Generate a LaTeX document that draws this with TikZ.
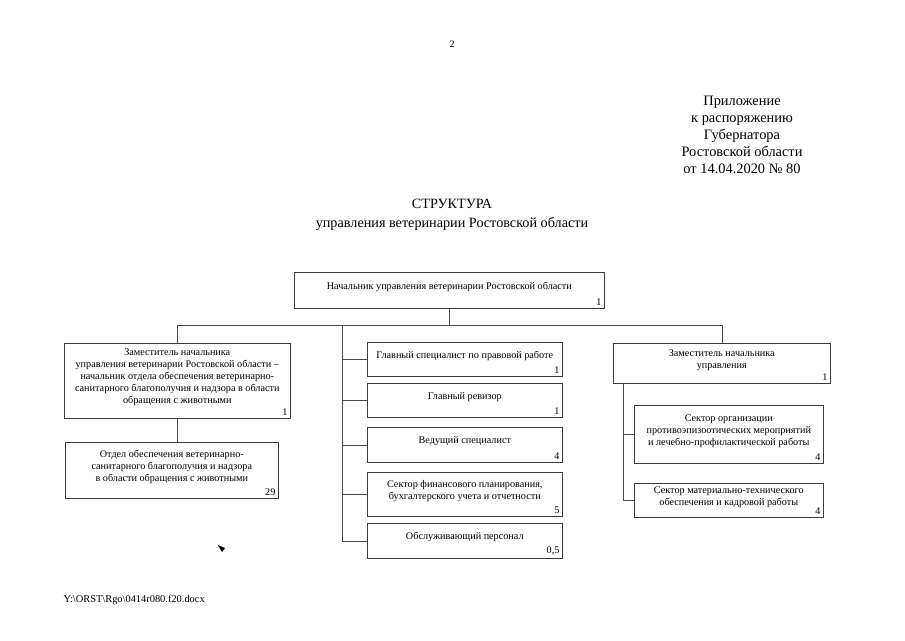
\documentclass[tikz,border=0pt]{standalone}
\usepackage{fontspec}
\setmainfont{Liberation Serif}
\usetikzlibrary{positioning, calc}
\definecolor{boxline}{HTML}{3A3A3A}
\definecolor{linkline}{HTML}{4A4A4A}
\tikzset{
  unitbox/.style={draw=boxline, fill=white, anchor=north west, align=center,
    inner sep=2pt, text depth=9pt, font=\fontsize{10.2}{12}\selectfont, line width=0.6pt},
  staff/.style={label={[anchor=south east, inner sep=3pt, font=\fontsize{10.2}{12}\selectfont]south east:#1}},
  link/.style={draw=linkline, line width=0.6pt}
}
\begin{document}
\begin{tikzpicture}[x=1pt, y=-1pt]
\useasboundingbox (0,0) rectangle (905,640);
% header
\node[font=\fontsize{10}{12}\selectfont] (page) at (452,44) {2};
\node[align=center, font=\fontsize{14.4}{17}\selectfont] (annex) at (742,135)
  {Приложение\\к распоряжению\\Губернатора\\Ростовской области\\от 14.04.2020 № 80};
\node[align=center, font=\fontsize{14.2}{19}\selectfont] (title) at (452,215)
  {СТРУКТУРА\\управления ветеринарии Ростовской области};
\node[anchor=west, font=\fontsize{10.4}{12}\selectfont] (file) at (60,600) {Y:\textbackslash ORST\textbackslash Rgo\textbackslash 0414r080.f20.docx};
% boxes
\node[unitbox, staff=1, minimum width=310, minimum height=36] (chief) at (294,272)
  {Начальник управления ветеринарии Ростовской области};
\node[unitbox, staff=1, minimum width=226, minimum height=75] (dep1) at (64,343)
  {Заместитель начальника\\управления ветеринарии Ростовской области --\\начальник отдела обеспечения ветеринарно-\\санитарного благополучия и надзора в области\\обращения с животными};
\node[unitbox, staff=29, minimum width=213, minimum height=56] (dept) at (65,442)
  {Отдел обеспечения ветеринарно-\\санитарного благополучия и надзора\\в области обращения с животными};
\node[unitbox, staff=1, minimum width=195, minimum height=34] (lawyer) at (367,342)
  {Главный специалист по правовой работе};
\node[unitbox, staff=1, minimum width=195, minimum height=34] (auditor) at (367,383)
  {Главный ревизор};
\node[unitbox, staff=4, minimum width=195, minimum height=35] (lead) at (367,427)
  {Ведущий специалист};
\node[unitbox, staff=5, minimum width=195, minimum height=44] (finance) at (367,472)
  {Сектор финансового планирования,\\бухгалтерского учета и отчетности};
\node[unitbox, staff=0{,}5, minimum width=195, minimum height=35] (service) at (367,523)
  {Обслуживающий персонал};
\node[unitbox, staff=1, minimum width=217, minimum height=40] (dep2) at (613,343)
  {Заместитель начальника\\управления};
\node[unitbox, staff=4, minimum width=189, minimum height=58] (epizoo) at (634,405)
  {Сектор организации\\противоэпизоотических мероприятий\\и лечебно-профилактической работы};
\node[unitbox, staff=4, minimum width=189, minimum height=34] (supply) at (634,483)
  {Сектор материально-технического\\обеспечения и кадровой работы};
% connectors
\coordinate (bus) at ($(chief.south)+(0,17)$);
\coordinate (mtop) at (342,325);
\coordinate (rtop) at ($(dep2.south west)+(10,0)$);
\draw[link] (chief.south) -- (bus);
\draw[link] (dep1.north) |- (bus) -| (dep2.north);
\draw[link] (dep1.south) -- (dep1.south |- dept.north);
\draw[link] (mtop |- bus) |- (service.west);
\foreach \m in {lawyer, auditor, lead, finance}
  \draw[link] (mtop |- \m.west) -- (\m.west);
\draw[link] (rtop) |- (supply.west);
\draw[link] (rtop |- epizoo.west) -- (epizoo.west);
% stray marker
\fill (218,545) -- (225,548) -- (222,552) -- cycle;
\end{tikzpicture}
\end{document}
